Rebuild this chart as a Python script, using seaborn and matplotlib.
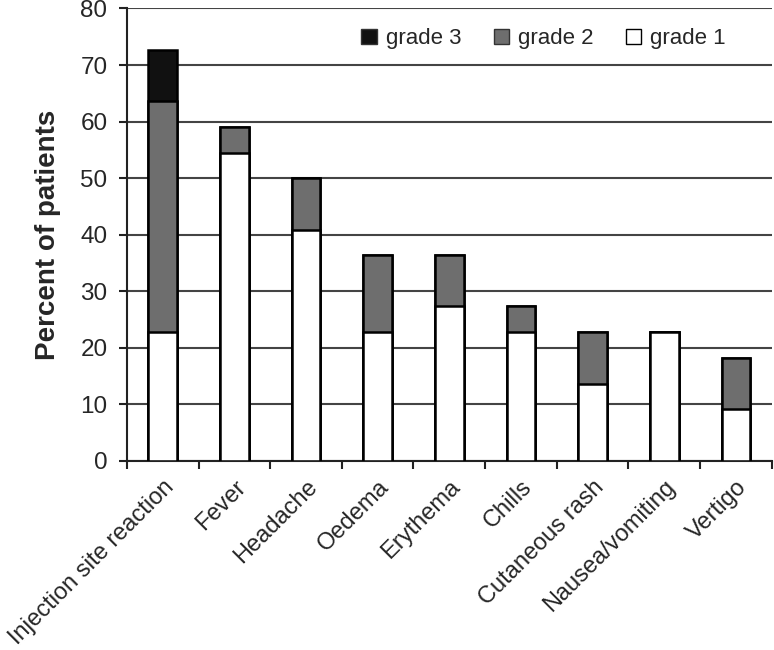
import numpy as np
import pandas as pd
import matplotlib
matplotlib.use("Agg")
import matplotlib.pyplot as plt
import seaborn as sns
from matplotlib.patches import Patch

categories = ["Injection site reaction", "Fever", "Headache", "Oedema", "Erythema",
              "Chills", "Cutaneous rash", "Nausea/vomiting", "Vertigo"]
grade1 = [22.7, 54.5, 40.9, 22.7, 27.3, 22.7, 13.6, 22.7, 9.1]
grade2 = [40.9, 4.6, 9.1, 13.7, 9.1, 4.6, 9.1, 0.0, 9.1]
grade3 = [9.1, 0.0, 0.0, 0.0, 0.0, 0.0, 0.0, 0.0, 0.0]
yticks = [0, 10, 20, 30, 40, 50, 60, 70, 80]

sns.set_theme(style="white")
plt.rcParams['font.family'] = ['Liberation Sans', 'DejaVu Sans']

df = pd.DataFrame({"cat": categories, "g1": grade1, "g2": grade2, "g3": grade3})
df["c12"] = df["g1"] + df["g2"]
df["c123"] = df["c12"] + df["g3"]

fig = plt.figure(figsize=(7.74, 6.5), dpi=100)
ax = fig.add_axes([0.164, 0.291, 0.833, 0.696])

for ycol, color in [("c123", "#111111"), ("c12", "#6e6e6e"), ("g1", "white")]:
    sns.barplot(data=df, x="cat", y=ycol, color=color, width=0.4, edgecolor="black",
                linewidth=1.8, saturation=1, ax=ax, zorder=3)

ax.set_ylim(0, 80)
ax.set_xlim(-0.5, len(categories) - 0.5)
ax.set_yticks(yticks)
ax.set_yticklabels([str(v) for v in yticks], fontsize=17.5)
ax.yaxis.grid(True, color="#444444", linewidth=1.5, zorder=0)
ax.set_axisbelow(True)
ax.set_ylabel("Percent of patients", fontsize=20, fontweight="bold", labelpad=14)
ax.set_xlabel("")
ax.set_xticks(range(len(categories)))
ax.set_xticklabels(categories, rotation=45, ha="right", rotation_mode="anchor", fontsize=17)
ax.tick_params(axis="x", which="major", length=0, pad=11)
ax.set_xticks(np.arange(-0.5, len(categories), 1), minor=True)
ax.tick_params(axis="x", which="minor", length=6, width=1.5, color="#222222", direction="out", bottom=True)
ax.tick_params(axis="y", length=6, width=1.5, color="#222222", direction="out", left=True, pad=8)

for s in ["top", "right"]:
    ax.spines[s].set_visible(False)
for s in ["left", "bottom"]:
    ax.spines[s].set_color("#222222")
    ax.spines[s].set_linewidth(1.5)

handles = [Patch(facecolor="#111111", edgecolor="#333333", label="grade 3"),
           Patch(facecolor="#6e6e6e", edgecolor="#333333", label="grade 2"),
           Patch(facecolor="white", edgecolor="black", label="grade 1")]
ax.legend(handles=handles, loc="upper right", bbox_to_anchor=(0.96, 1.0), ncol=3,
          frameon=False, fontsize=16, handlelength=0.7, handleheight=0.7,
          handletextpad=0.4, columnspacing=1.45)

fig.savefig("out.png", dpi=100)
